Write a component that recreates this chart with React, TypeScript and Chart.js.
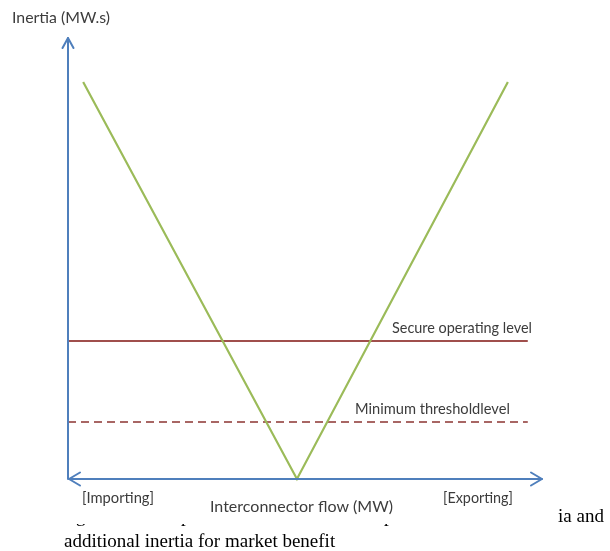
import React, { useEffect, useRef } from "react";
import { Chart, registerables } from "chart.js";

Chart.register(...registerables);

// Schematic values (abstract units)
const flowPoints = [3.2, 48.3, 92.8];
const inertiaPoints = [90, 0, 90];
const secureLevel = 31.3;
const minimumLevel = 12.9;
const levelSpan = [0, 97];

const yAxisTitle = "Inertia (MW.s)";
const xAxisTitle = "Interconnector flow (MW)";
const leftEndLabel = "[Importing]";
const rightEndLabel = "[Exporting]";
const secureLabel = "Secure operating level";
const minimumLabel = "Minimum thresholdlevel";

const W = 610;
const H = 551;

function fitText(ctx: CanvasRenderingContext2D, text: string, x: number, y: number, target: number, family: string) {
  ctx.font = `14px ${family}`;
  const m = ctx.measureText(text).width;
  const size = (14 * target) / m;
  ctx.font = `${size.toFixed(2)}px ${family}`;
  ctx.textAlign = "left";
  ctx.textBaseline = "middle";
  ctx.fillText(text, x, y);
}

function arrowHead(ctx: CanvasRenderingContext2D, tx: number, ty: number, dx: number, dy: number, len: number, half: number) {
  // dx,dy unit direction of arrow pointing
  const bx = tx - dx * len;
  const by = ty - dy * len;
  const px = -dy;
  const py = dx;
  ctx.beginPath();
  ctx.moveTo(bx + px * half, by + py * half);
  ctx.lineTo(tx, ty);
  ctx.lineTo(bx - px * half, by - py * half);
  ctx.stroke();
}

const decorPlugin = {
  id: "decor",
  afterDatasetsDraw(chart: any) {
    const ctx: CanvasRenderingContext2D = chart.ctx;
    const xs = chart.scales.x;
    const ys = chart.scales.y;
    const x0 = xs.getPixelForValue(0);
    const y0 = ys.getPixelForValue(0);
    const xTop = ys.top;
    const xRight = xs.right;
    ctx.save();
    ctx.strokeStyle = "#4f7fbc";
    ctx.lineWidth = 2;
    ctx.lineCap = "round";
    ctx.lineJoin = "round";
    // y axis
    ctx.beginPath();
    ctx.moveTo(x0, y0);
    ctx.lineTo(x0, xTop);
    ctx.stroke();
    arrowHead(ctx, x0, xTop, 0, -1, 10, 5.5);
    // x axis (double-headed)
    ctx.beginPath();
    ctx.moveTo(x0 + 1, y0);
    ctx.lineTo(xRight, y0);
    ctx.stroke();
    arrowHead(ctx, xRight, y0, 1, 0, 11, 6.5);
    arrowHead(ctx, x0 + 1, y0, -1, 0, 11, 6.5);

    // labels
    ctx.fillStyle = "#3c3c3c";
    const fam = "Lato, 'Open Sans', sans-serif";
    fitText(ctx, yAxisTitle, 12, 18, 98, fam);
    fitText(ctx, secureLabel, 392, ys.getPixelForValue(secureLevel) - 13, 140, fam);
    fitText(ctx, minimumLabel, 355, ys.getPixelForValue(minimumLevel) - 13, 155, fam);
    fitText(ctx, leftEndLabel, 82, 498, 72, fam);
    fitText(ctx, xAxisTitle, 210, 507, 183, fam);
    fitText(ctx, rightEndLabel, 443, 498, 70, fam);
    ctx.restore();
  },
};

export default function App() {
  const ref = useRef<HTMLCanvasElement | null>(null);

  useEffect(() => {
    if (!ref.current) return;
    const chart = new Chart(ref.current, {
      type: "line",
      data: {
        datasets: [
          {
            label: "Inertia",
            data: flowPoints.map((x, i) => ({ x, y: inertiaPoints[i] })),
            borderColor: "#9bbb59",
            borderWidth: 2.2,
            pointRadius: 0,
            tension: 0,
          },
          {
            label: secureLabel,
            data: levelSpan.map((x) => ({ x, y: secureLevel })),
            borderColor: "#a04f4c",
            borderWidth: 2,
            pointRadius: 0,
          },
          {
            label: minimumLabel,
            data: levelSpan.map((x) => ({ x, y: minimumLevel })),
            borderColor: "#a86664",
            borderWidth: 2,
            borderDash: [8, 5],
            pointRadius: 0,
          },
        ],
      },
      options: {
        responsive: false,
        animation: false,
        events: [],
        clip: false as any,
        layout: { padding: { left: 68, top: 38, right: 68, bottom: 72 } },
        plugins: { legend: { display: false }, tooltip: { enabled: false } },
        scales: {
          x: { type: "linear", min: 0, max: 100, display: false },
          y: { type: "linear", min: 0, max: 100, display: false },
        },
      },
      plugins: [decorPlugin],
    });
    return () => chart.destroy();
  }, []);

  const serif = "'Liberation Serif', 'Times New Roman', serif";
  return (
    <div style={{ position: "fixed", left: 0, top: 0, width: W, height: H, background: "#fff", overflow: "hidden" }}>
      <canvas ref={ref} width={W} height={H} style={{ position: "absolute", left: 0, top: 0, width: W, height: H }} />
      <div style={{ position: "absolute", left: 0, top: 524, width: 420, height: 8, overflow: "hidden" }}>
        <div style={{ position: "absolute", left: 76, top: -18, font: `19px/19px ${serif}`, color: "#000" }}>g</div>
        <div style={{ position: "absolute", left: 181, top: -18, font: `19px/19px ${serif}`, color: "#000" }}>p</div>
        <div style={{ position: "absolute", left: 384, top: -18, font: `19px/19px ${serif}`, color: "#000" }}>p</div>
      </div>
      <div style={{ position: "absolute", right: 6, top: 506, font: `19px/19px ${serif}`, color: "#000", whiteSpace: "nowrap" }}>
        ia and
      </div>
      <div style={{ position: "absolute", left: 64, top: 531, font: `19px/19px ${serif}`, color: "#000", whiteSpace: "nowrap" }}>
        additional inertia for market benefit
      </div>
    </div>
  );
}
